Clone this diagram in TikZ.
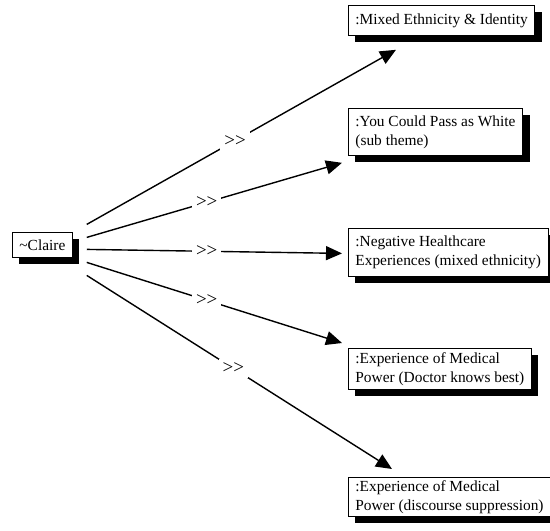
\documentclass[tikz,border=0pt]{standalone}
\usepackage{fontspec}
\setmainfont{Liberation Serif}
\usetikzlibrary{arrows.meta,calc,shadows}

\tikzset{
  txt/.style={font=\fontsize{15.4}{19}\selectfont},
  theme/.style={txt, draw, line width=0.8pt, fill=white, align=left,
    anchor=north west, inner xsep=7pt, inner ysep=0pt,
    drop shadow={shadow xshift=7pt, shadow yshift=-7pt, fill=black, opacity=1}},
  link/.style={line width=1.4pt, -{Triangle[length=16pt,width=14pt]}},
  lbl/.style={font=\fontsize{19}{22}\selectfont, fill=white,
    inner xsep=4pt, inner ysep=4pt},
}

\begin{document}
\begin{tikzpicture}[x=1pt, y=-1pt]
  \useasboundingbox (0,0) rectangle (550,531);

  % participant
  \node[theme, minimum height=25pt] (claire) at (12,232) {\textasciitilde Claire};

  % themes
  \node[theme, minimum height=30pt] (m1) at (348,5)
    {:Mixed Ethnicity \& Identity};
  \node[theme, minimum height=47pt] (m2) at (348,108)
    {:You Could Pass as White\\(sub theme)};
  \node[theme, minimum height=48pt] (m3) at (348,228)
    {:Negative Healthcare\\Experiences (mixed ethnicity)};
  \node[theme, minimum height=41pt] (m4) at (348,348)
    {:Experience of Medical\\Power (Doctor knows best)};
  \node[theme, minimum height=39pt] (m5) at (348,477)
    {:Experience of Medical\\Power (discourse suppression)};

  % arrow ends
  \coordinate (s1) at ($(claire.east)+(14,-20.5)$);
  \coordinate (s2) at ($(claire.east)+(14,-7.5)$);
  \coordinate (s3) at ($(claire.east)+(14,4.5)$);
  \coordinate (s4) at ($(claire.east)+(14,17.5)$);
  \coordinate (s5) at ($(claire.east)+(14,30.5)$);
  \coordinate (t1) at ($(m1.south west)+(48,14)$);
  \coordinate (t2) at ($(m2.south west)+(-6,7)$);
  \coordinate (t3) at ($(m3.west)+(-6,1)$);
  \coordinate (t4) at ($(m4.north west)+(-6,-5)$);
  \coordinate (t5) at ($(m5.north west)+(44,-8)$);

  % links
  \draw[link] (s1) -- node[lbl, pos=0.48] (l1) {>{}>} (t1);
  \draw[link] (s2) -- node[lbl, pos=0.47] (l2) {>{}>} (t2);
  \draw[link] (s3) -- node[lbl, pos=0.47] (l3) {>{}>} (t3);
  \draw[link] (s4) -- node[lbl, pos=0.47] (l4) {>{}>} (t4);
  \draw[link] (s5) -- node[lbl, pos=0.48] (l5) {>{}>} (t5);
\end{tikzpicture}
\end{document}
